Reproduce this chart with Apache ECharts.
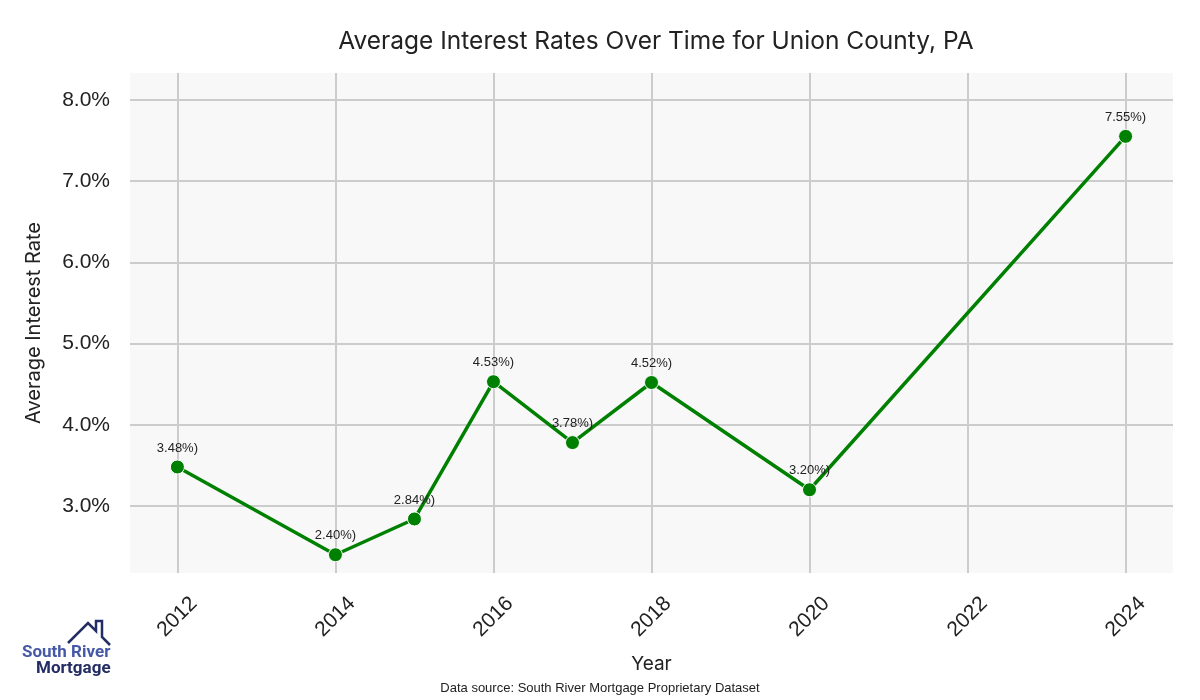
<!DOCTYPE html>
<html>
<head>
<meta charset="utf-8">
<script src="https://cdn.jsdelivr.net/npm/echarts@6/dist/echarts.min.js"></script>
<style>html,body{margin:0;padding:0;background:#fff}#c{width:1200px;height:700px}</style>
</head>
<body>
<div id="c"></div>
<script>
const years = [2012, 2014, 2015, 2016, 2017, 2018, 2020, 2024];
const rates = [3.48, 2.40, 2.84, 4.53, 3.78, 4.52, 3.20, 7.55];
const pointLabels = ['3.48%)', '2.40%)', '2.84%)', '4.53%)', '3.78%)', '4.52%)', '3.20%)', '7.55%)'];
const titleText = 'Average Interest Rates Over Time for Union County, PA';
const sourceText = 'Data source: South River Mortgage Proprietary Dataset';

const chart = echarts.init(document.getElementById('c'));
const data = years.map((y, i) => [y, rates[i]]);

chart.setOption({
  backgroundColor: '#ffffff',
  animation: false,
  title: {
    text: titleText,
    left: 651, top: 24, textAlign: 'center',
    textStyle: { fontFamily: 'Inter', fontSize: 24.5, fontWeight: 'normal', color: '#222' }
  },
  grid: {
    left: 130, right: 27, top: 73, bottom: 127,
    show: true, backgroundColor: '#f8f8f8', borderWidth: 0
  },
  xAxis: {
    type: 'value', min: 2011.4, max: 2024.6, splitNumber: 6,
    name: 'Year', nameLocation: 'middle', nameGap: 82,
    nameTextStyle: { fontFamily: 'Inter', fontSize: 19, color: '#222' },
    axisLine: { show: false }, axisTick: { show: false },
    axisLabel: {
      rotate: 45, align: 'center', verticalAlign: 'middle', margin: 44,
      fontFamily: 'Liberation Sans', fontSize: 21, color: '#222',
      showMinLabel: false, showMaxLabel: false,
      formatter: v => (Number.isInteger(v) ? String(v) : '')
    },
    splitLine: { show: true, showMinLine: false, showMaxLine: false, lineStyle: { color: '#cccccc', width: 2 } }
  },
  yAxis: {
    type: 'value', min: 2.175, max: 8.33, splitNumber: 6,
    name: 'Average Interest Rate', nameLocation: 'middle', nameGap: 86,
    nameTextStyle: { fontFamily: 'Inter', fontSize: 20, color: '#222' },
    axisLine: { show: false }, axisTick: { show: false },
    axisLabel: {
      margin: 20, fontFamily: 'Liberation Sans', fontSize: 21, color: '#222',
      showMinLabel: false, showMaxLabel: false,
      formatter: v => (Number.isInteger(Math.round(v * 1000) / 1000) ? v.toFixed(1) + '%' : '')
    },
    splitLine: { show: true, showMinLine: false, showMaxLine: false, lineStyle: { color: '#cccccc', width: 2 } }
  },
  series: [{
    type: 'line', data: data,
    lineStyle: { color: '#008000', width: 3.5 },
    itemStyle: { color: '#008000', borderColor: '#ffffff', borderWidth: 1 },
    symbol: 'circle', symbolSize: 14,
    label: {
      show: true, position: 'top', distance: 5,
      fontFamily: 'Liberation Sans', fontSize: 13, color: '#222',
      formatter: p => pointLabels[p.dataIndex]
    }
  }],
  graphic: [
    { type: 'text', left: 'center', top: 682,
      style: { text: sourceText, fontFamily: 'Liberation Sans', fontSize: 13, fill: '#222' } },
    { type: 'polyline', shape: { points: [[68, 643], [88, 623], [96, 631], [96, 621], [102, 621], [102, 637], [110, 645]] },
      style: { stroke: '#232d63', lineWidth: 2.5, fill: null, lineJoin: 'miter' } },
    { type: 'text', x: 22, y: 644,
      style: { text: 'South River', fontFamily: 'Roboto', fontWeight: 'bold', fontSize: 17, fill: '#4658a8' } },
    { type: 'text', x: 36, y: 660,
      style: { text: 'Mortgage', fontFamily: 'Roboto', fontWeight: 'bold', fontSize: 17, fill: '#232d63' } }
  ]
});
</script>
</body>
</html>
